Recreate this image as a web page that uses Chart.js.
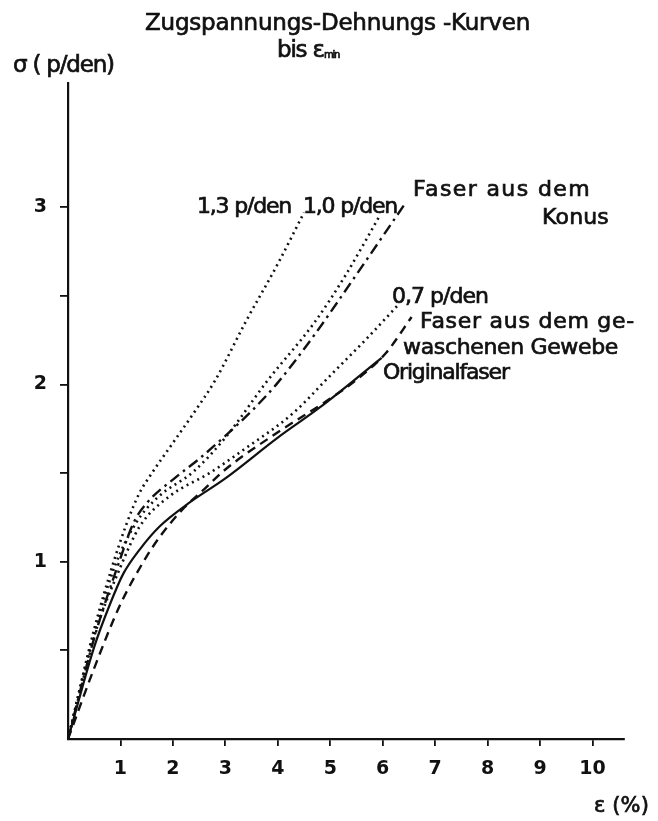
<!DOCTYPE html>
<html>
<head>
<meta charset="utf-8">
<script src="https://cdn.jsdelivr.net/npm/chart.js@4"></script>
<style>
  html, body { margin: 0; background: #fff; }
  #c { display: block; }
</style>
</head>
<body>
<canvas id="c" width="658" height="821"></canvas>
<script>
// values (x = strain in %, y = stress in p/den)
const origX = [0, 0.5, 0.8, 1.05, 1.37, 1.75, 2.3, 3.0, 4.0, 4.8, 5.98];
const origY = [0, 0.52, 0.76, 0.93, 1.07, 1.2, 1.33, 1.47, 1.7, 1.87, 2.15];

const gewebeX = [0, 0.5, 1.0, 1.5, 1.8, 2.2, 2.6, 3.0, 4.0, 5.0, 5.56, 6.07, 6.55];
const gewebeY = [0, 0.4, 0.76, 1.03, 1.16, 1.3, 1.41, 1.52, 1.73, 1.92, 2.04, 2.18, 2.38];

const p07X = [0, 0.5, 1.0, 1.37, 1.94, 2.7, 3.34, 4.3, 5.0, 5.7, 6.3];
const p07Y = [0, 0.58, 0.97, 1.2, 1.37, 1.5, 1.63, 1.84, 2.05, 2.26, 2.45];

const p10X = [0, 0.5, 0.9, 1.3, 1.7, 2.4, 3.0, 3.8, 4.7, 5.3, 5.94];
const p10Y = [0, 0.6, 0.98, 1.22, 1.36, 1.51, 1.7, 2.02, 2.35, 2.62, 2.95];

const konusX = [0, 0.5, 1.0, 1.25, 1.5, 2.07, 2.5, 3.0, 3.5, 4.0, 4.7, 5.5, 6.45];
const konusY = [0, 0.57, 1.02, 1.22, 1.33, 1.48, 1.58, 1.71, 1.85, 2.01, 2.28, 2.62, 3.03];

const p13X = [0, 0.5, 0.85, 1.1, 1.35, 1.6, 2.0, 2.4, 2.8, 3.4, 4.0, 4.5];
const p13Y = [0, 0.62, 0.98, 1.2, 1.38, 1.5, 1.67, 1.84, 2.02, 2.36, 2.68, 2.97];

const xTicks = [1, 2, 3, 4, 5, 6, 7, 8, 9, 10];
const yTicks = [0.5, 1, 1.5, 2, 2.5, 3];

const INK = '#111';
const FONT = '"DejaVu Sans", sans-serif';

function pts(xs, ys) {
  return xs.map((x, i) => ({ x: x, y: ys[i] }));
}

function serie(label, xs, ys, dash, width) {
  return {
    label: label,
    data: pts(xs, ys),
    borderColor: INK,
    borderWidth: width,
    borderDash: dash,
    pointRadius: 0,
    fill: false,
    cubicInterpolationMode: 'monotone'
  };
}

// text with a target width, like the hand lettering of the original
function letter(ctx, s, x, y, w, size) {
  ctx.font = size + 'px ' + FONT;
  ctx.letterSpacing = '0px';
  let m = ctx.measureText(s).width;
  let sp = (w - m) / s.length;
  sp = Math.max(-1.2, Math.min(3, sp));
  ctx.letterSpacing = sp + 'px';
  ctx.fillText(s, x, y);
  ctx.strokeText(s, x, y);
}

const labelsPlugin = {
  id: 'labels',
  afterDraw(chart) {
    const ctx = chart.ctx;
    ctx.save();
    ctx.fillStyle = INK;
    ctx.strokeStyle = INK;
    ctx.lineWidth = 0.7;
    ctx.textAlign = 'left';
    ctx.textBaseline = 'middle';
    letter(ctx, 'Zugspannungs-Dehnungs -Kurven', 145, 24, 385, 23);
    letter(ctx, 'bis ε', 277, 51, 46, 23);
    letter(ctx, 'min', 324, 55, 10, 10);
    letter(ctx, 'σ ( p/den)', 13, 66, 97, 23);
    letter(ctx, 'ε (%)', 594, 807, 55, 21);

    letter(ctx, '1,3 p/den', 197, 207, 91, 22);
    letter(ctx, '1,0 p/den', 303, 207, 90, 22);
    letter(ctx, 'Faser aus dem', 413, 190, 178, 22);
    letter(ctx, 'Konus', 542, 218, 67, 22);
    letter(ctx, '0,7 p/den', 392, 297, 96, 22);
    letter(ctx, 'Faser aus dem ge-', 420, 322, 215, 22);
    letter(ctx, 'waschenen Gewebe', 403, 348, 215, 22);
    letter(ctx, 'Originalfaser', 383, 373, 114, 22);
    ctx.restore();
  }
};

const ctx = document.getElementById('c').getContext('2d');

new Chart(ctx, {
  type: 'line',
  data: {
    datasets: [
      serie('Originalfaser', origX, origY, [], 2.2),
      serie('Faser aus dem gewaschenen Gewebe', gewebeX, gewebeY, [9, 6], 2.4),
      serie('0,7 p/den', p07X, p07Y, [2, 4], 2.6),
      serie('1,0 p/den', p10X, p10Y, [2, 4], 2.6),
      serie('Faser aus dem Konus', konusX, konusY, [11, 5, 2.5, 5], 2.4),
      serie('1,3 p/den', p13X, p13Y, [2, 4], 2.6)
    ]
  },
  options: {
    responsive: false,
    devicePixelRatio: 1,
    animation: false,
    layout: { padding: { left: 0, top: 83, right: 34, bottom: 0 } },
    plugins: {
      legend: { display: false },
      tooltip: { enabled: false }
    },
    scales: {
      x: {
        type: 'linear',
        min: 0,
        max: 10.6,
        afterBuildTicks: s => { s.ticks = xTicks.map(v => ({ value: v })); },
        afterFit: s => { s.height = 82; },
        grid: { drawOnChartArea: false, color: INK, tickLength: 7, lineWidth: 1.8 },
        border: { color: INK, width: 2.2 },
        ticks: {
          color: INK,
          font: { family: FONT, size: 19, weight: 'bold' },
          padding: 12,
          maxRotation: 0,
          autoSkip: false
        }
      },
      y: {
        type: 'linear',
        min: 0,
        max: 3.7,
        afterBuildTicks: s => { s.ticks = yTicks.map(v => ({ value: v })); },
        afterFit: s => { s.width = 68; },
        grid: { drawOnChartArea: false, color: INK, tickLength: 8, lineWidth: 1.8 },
        border: { color: INK, width: 2.2 },
        ticks: {
          color: INK,
          font: { family: FONT, size: 19, weight: 'bold' },
          padding: 13,
          callback: v => Number.isInteger(v) ? String(v) : ''
        }
      }
    }
  },
  plugins: [labelsPlugin]
});
</script>
</body>
</html>
